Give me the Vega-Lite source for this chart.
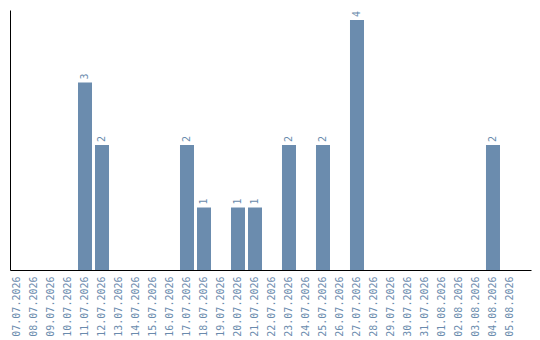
{
  "$schema": "https://vega.github.io/schema/vega-lite/v6.json",
  "width": 521,
  "height": 260,
  "autosize": {"type": "none"},
  "padding": {"left": 10, "top": 10, "right": 9, "bottom": 70},
  "background": "white",
  "config": {
    "view": {"stroke": null},
    "font": "DejaVu Sans Mono"
  },
  "data": {
    "values": [
      {"date": "07.07.2026", "count": 0},
      {"date": "08.07.2026", "count": 0},
      {"date": "09.07.2026", "count": 0},
      {"date": "10.07.2026", "count": 0},
      {"date": "11.07.2026", "count": 3},
      {"date": "12.07.2026", "count": 2},
      {"date": "13.07.2026", "count": 0},
      {"date": "14.07.2026", "count": 0},
      {"date": "15.07.2026", "count": 0},
      {"date": "16.07.2026", "count": 0},
      {"date": "17.07.2026", "count": 2},
      {"date": "18.07.2026", "count": 1},
      {"date": "19.07.2026", "count": 0},
      {"date": "20.07.2026", "count": 1},
      {"date": "21.07.2026", "count": 1},
      {"date": "22.07.2026", "count": 0},
      {"date": "23.07.2026", "count": 2},
      {"date": "24.07.2026", "count": 0},
      {"date": "25.07.2026", "count": 2},
      {"date": "26.07.2026", "count": 0},
      {"date": "27.07.2026", "count": 4},
      {"date": "28.07.2026", "count": 0},
      {"date": "29.07.2026", "count": 0},
      {"date": "30.07.2026", "count": 0},
      {"date": "31.07.2026", "count": 0},
      {"date": "01.08.2026", "count": 0},
      {"date": "02.08.2026", "count": 0},
      {"date": "03.08.2026", "count": 0},
      {"date": "04.08.2026", "count": 2},
      {"date": "05.08.2026", "count": 0}
    ]
  },
  "encoding": {
    "x": {
      "field": "date",
      "type": "ordinal",
      "sort": null,
      "scale": {"paddingInner": 0.176, "paddingOuter": 0.412, "align": 0},
      "axis": {
        "title": null,
        "ticks": false,
        "tickSize": 0,
        "labelAngle": 270,
        "labelPadding": 6,
        "labelFont": "DejaVu Sans Mono",
        "labelFontSize": 10,
        "labelColor": "#6a8bad",
        "domainColor": "black",
        "domainWidth": 1,
        "grid": false
      }
    },
    "y": {
      "field": "count",
      "type": "quantitative",
      "scale": {"domain": [0, 4.16], "nice": false, "zero": true},
      "axis": {
        "title": null,
        "ticks": false,
        "labels": false,
        "grid": false,
        "domainColor": "black",
        "domainWidth": 1
      }
    }
  },
  "layer": [
    {"mark": {"type": "bar", "color": "#6b8cae"}},
    {
      "transform": [{"filter": "datum.count > 0"}],
      "mark": {
        "type": "text",
        "angle": 270,
        "align": "left",
        "baseline": "middle",
        "dx": 3,
        "font": "DejaVu Sans Mono",
        "fontSize": 10,
        "color": "#6a8bad"
      },
      "encoding": {"text": {"field": "count", "type": "quantitative"}}
    }
  ]
}
